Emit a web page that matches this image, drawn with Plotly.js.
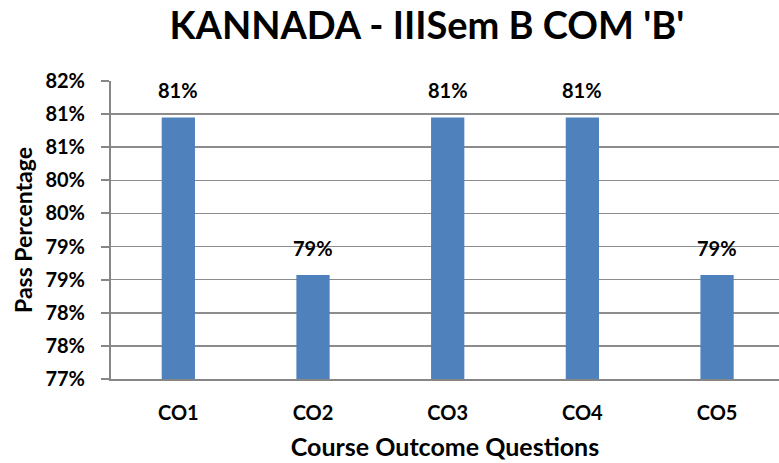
<!DOCTYPE html>
<html>
<head>
<meta charset="utf-8">
<script src="https://cdn.plot.ly/plotly-3.0.1.min.js"></script>
<style>html,body{margin:0;padding:0;background:#fff;}#chart{width:779px;height:463px;}</style>
</head>
<body>
<div id="chart"></div>
<script>
const categories = ["CO1", "CO2", "CO3", "CO4", "CO5"];
const passPercent = [80.95, 78.57, 80.95, 80.95, 78.57];
const tickValues = [77, 77.5, 78, 78.5, 79, 79.5, 80, 80.5, 81, 81.5];
const tickLabels = ["77%", "78%", "78%", "79%", "79%", "80%", "80%", "81%", "81%", "82%"];
const barLabels = ["81%", "79%", "81%", "81%", "79%"];

const FONT = "Lato, 'Open Sans', sans-serif";

const trace = {
  type: "bar",
  x: categories,
  y: passPercent,
  width: 0.247,
  marker: {color: "#4F81BD"},
  hoverinfo: "none"
};

const labelAnnotations = categories.map((c, i) => ({
  x: c, y: passPercent[i], xref: "x", yref: "y",
  text: "<b>" + barLabels[i] + "</b>",
  showarrow: false, xanchor: "center", yanchor: "bottom",
  yshift: 13,
  font: {family: FONT, size: 20, color: "#000"}
}));

const layout = {
  width: 779, height: 463,
  margin: {l: 111, r: 0, t: 81, b: 84},
  paper_bgcolor: "#fff", plot_bgcolor: "#fff",
  showlegend: false,
  title: {
    text: "<b>KANNADA - IIISem B COM 'B'</b>",
    font: {family: FONT, size: 38, color: "#000"},
    x: 0.548, xanchor: "center", y: 0.945, yanchor: "middle"
  },
  annotations: labelAnnotations,
  xaxis: {
    type: "category",
    range: [-0.5, 4.46],
    showline: true, linecolor: "#868686", linewidth: 2,
    ticks: "", showgrid: false,
    tickfont: {family: FONT, size: 20, color: "#000", weight: "bold"},
    ticklabelstandoff: 15,
    title: {text: "<b>Course Outcome Questions</b>", font: {family: FONT, size: 25, color: "#000"}, standoff: 15}
  },
  yaxis: {
    range: [77, 81.5],
    tickvals: tickValues, ticktext: tickLabels,
    showline: true, linecolor: "#868686", linewidth: 2,
    ticks: "outside", ticklen: 8, tickwidth: 2, tickcolor: "#868686",
    showgrid: true, gridcolor: "#8c8c8c", gridwidth: 1.5,
    zeroline: false,
    tickfont: {family: FONT, size: 20, color: "#000", weight: "bold"},
    ticklabelstandoff: 12,
    title: {text: "<b>Pass Percentage</b>", font: {family: FONT, size: 23, color: "#000"}, standoff: 6}
  }
};

Plotly.newPlot("chart", [trace], layout, {staticPlot: true, displayModeBar: false});
</script>
</body>
</html>
